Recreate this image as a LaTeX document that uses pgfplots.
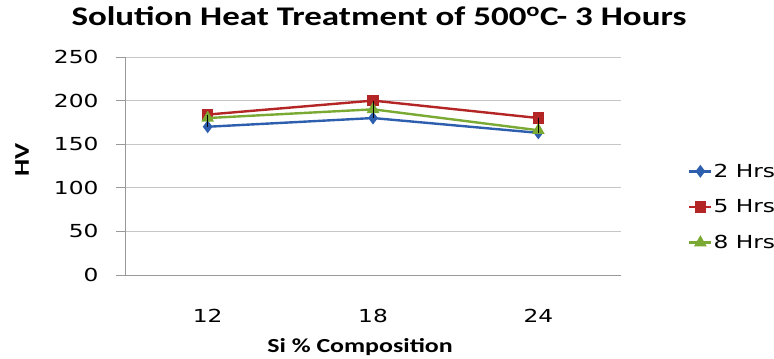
\documentclass[border=0pt]{standalone}
\usepackage{fontspec}
\usepackage{pgfplots}
\pgfplotsset{compat=1.18}
\newfontfamily\titlefont{Carlito}[FakeStretch=1.3]
\newfontfamily\tickfont{DejaVu Sans}[FakeStretch=1.3]
\definecolor{cblue}{RGB}{46,95,175}
\definecolor{cred}{RGB}{180,38,38}
\definecolor{cgreen}{RGB}{122,170,52}
\begin{document}
\begin{tikzpicture}[x=1bp,y=1bp]
\path[use as bounding box] (0,0) rectangle (774,358);
\begin{axis}[
  at={(125bp,83bp)}, anchor=south west, scale only axis,
  width=496bp, height=218bp,
  xmin=-0.5, xmax=2.5, ymin=0, ymax=250,
  xtick={0,1,2}, xticklabels={12,18,24},
  ytick={0,50,...,250},
  /pgf/number format/assume math mode=true,
  axis x line*=bottom, axis y line*=left,
  axis line style={draw=gray!80, line width=0.8bp},
  ymajorgrids, grid style={draw=gray!45, line width=0.8bp},
  tick align=outside, major tick length=9bp,
  ytick style={draw=gray!80, line width=0.8bp},
  xtick style={draw=none},
  tick label style={font=\tickfont\fontsize{18}{20}\selectfont},
  yticklabel style={xshift=-14bp},
  xticklabel style={yshift=-22bp},
  clip mode=individual,
  legend style={at={(1.135,0.312)}, anchor=west, draw=none, fill=none,
    font=\tickfont\fontsize{18}{20}\selectfont, row sep=19bp, inner sep=0pt,
    nodes={inner sep=1bp}},
  legend cell align=left,
  legend image code/.code={\draw[mark repeat=2,mark phase=2] plot coordinates {(0bp,0bp) (11bp,0bp) (22bp,0bp)};},
  unbounded coords=jump,
]
\addplot[cblue, line width=2.4bp, mark=diamond*, mark size=4.5bp, mark options={solid}] coordinates {(0,170) (1,180) (2,163)};
\addlegendentry{2 Hrs}
\addplot[cred, line width=2.4bp, mark=square*, mark size=4.5bp, mark options={solid}] coordinates {(0,184) (1,200) (2,180)};
\addlegendentry{5 Hrs}
\addplot[cgreen, line width=2.4bp, mark=triangle*, mark size=5bp, mark options={solid}] coordinates {(0,180) (1,190) (2,166)};
\addlegendentry{8 Hrs}
\addplot[black, line width=1bp, forget plot] coordinates {(0,184) (0,170) (0,nan) (1,200) (1,180) (1,nan) (2,180) (2,163)};
\end{axis}
\node[font=\titlefont\bfseries\fontsize{27}{30}\selectfont, anchor=base] at (379,333) {Solution Heat Treatment of 500\textsuperscript{o}C- 3 Hours};
\node[font=\titlefont\bfseries\fontsize{21}{24}\selectfont, rotate=90] at (22,198) {HV};
\node[font=\titlefont\bfseries\fontsize{20}{24}\selectfont, anchor=base] at (360,6) {Si \% Composition};
\end{tikzpicture}
\end{document}
